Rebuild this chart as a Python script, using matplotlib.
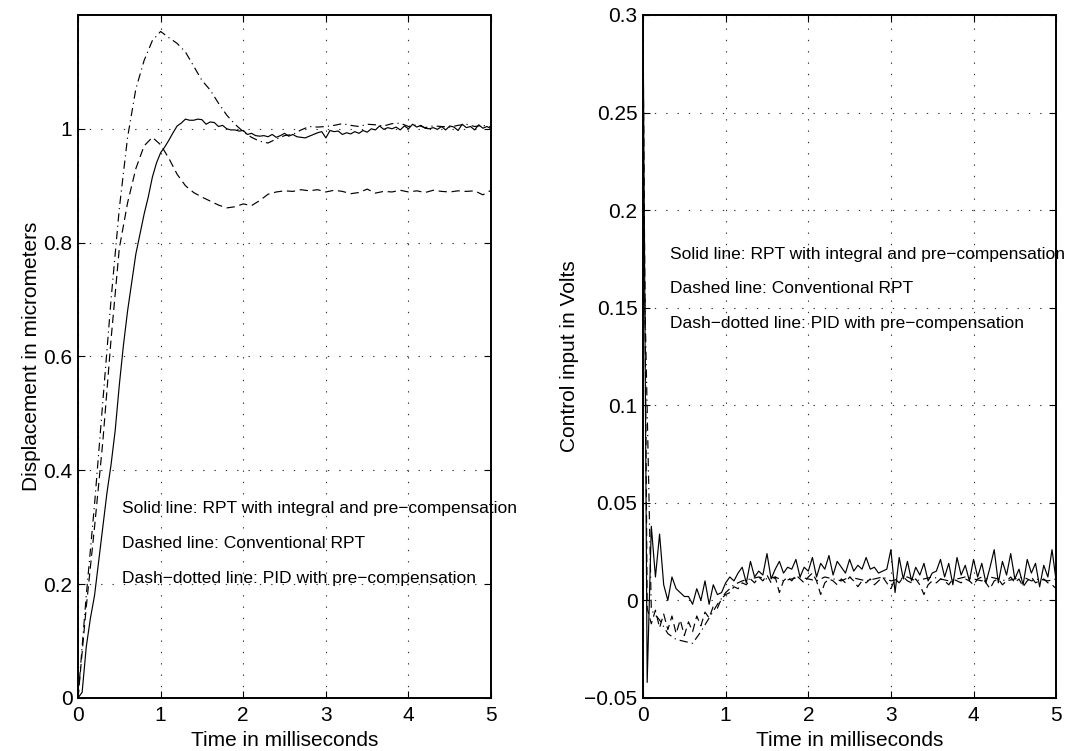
import matplotlib.pyplot as plt

plt.rcParams['font.family'] = ['Liberation Sans', 'DejaVu Sans']
plt.rcParams['font.size'] = 15
plt.rcParams['axes.linewidth'] = 1.4
plt.rcParams['xtick.direction'] = 'in'
plt.rcParams['ytick.direction'] = 'in'
plt.rcParams['xtick.top'] = True
plt.rcParams['ytick.right'] = True
plt.rcParams['xtick.major.size'] = 5
plt.rcParams['ytick.major.size'] = 5

# time grids (ms)
t_fine = [i * 0.05 for i in range(101)]
t_coarse = [i * 0.1 for i in range(51)]

# displacement (micrometers)
disp_solid = [0.0, 0.01, 0.09, 0.14, 0.18, 0.24, 0.30, 0.36, 0.41, 0.47,
              0.55, 0.62, 0.68, 0.73, 0.78, 0.815, 0.85, 0.88, 0.915, 0.94,
              0.958, 0.968, 0.98, 0.993, 1.005, 1.01, 1.017, 1.015, 1.015, 1.017,
              1.016, 1.008, 1.012, 1.011, 1.004, 1.006, 1.0, 0.998, 0.998, 0.996,
              0.997, 0.99, 0.992, 0.988, 0.987, 0.988, 0.986, 0.99, 0.985, 0.988,
              0.992, 0.987, 0.99, 0.986, 0.985, 0.984, 0.987, 0.99, 0.993, 0.995,
              0.984, 0.997, 0.995, 0.996, 0.99, 0.993, 0.991, 0.995, 0.992, 0.997,
              0.994, 1.0, 0.998, 1.005, 0.999, 1.002, 1.0, 1.003, 0.998, 1.005,
              1.0, 1.008, 1.003, 1.006, 1.001, 1.0, 1.002, 0.999, 1.004, 0.998,
              1.005, 1.003, 0.997, 1.008, 1.002, 1.004, 0.998, 1.007, 1.001, 1.004,
              1.0]
disp_dashed = [0.0, 0.16, 0.30, 0.45, 0.63, 0.79, 0.87, 0.93, 0.97, 0.985,
               0.972, 0.948, 0.92, 0.90, 0.888, 0.88, 0.873, 0.866, 0.861, 0.863,
               0.868, 0.865, 0.874, 0.885, 0.889, 0.891, 0.89, 0.893, 0.891, 0.893,
               0.889, 0.892, 0.89, 0.886, 0.888, 0.894, 0.887, 0.89, 0.889, 0.892,
               0.889, 0.891, 0.888, 0.892, 0.89, 0.889, 0.891, 0.89, 0.891, 0.884,
               0.892]
disp_dashdot = [0.0, 0.18, 0.34, 0.52, 0.70, 0.86, 0.985, 1.07, 1.12, 1.155,
                1.171, 1.16, 1.15, 1.135, 1.11, 1.085, 1.068, 1.045, 1.024, 1.008,
                0.995, 0.985, 0.978, 0.975, 0.982, 0.988, 0.99, 0.998, 1.004, 1.003,
                1.004, 1.006, 1.009, 1.006, 1.004, 1.008, 1.007, 1.005, 1.009, 1.01,
                1.004, 1.007, 1.002, 1.005, 1.004, 1.003, 1.006, 1.008, 1.004, 1.006,
                1.003]

# control input (Volts)
u_solid = [0.30, -0.042, 0.038, 0.012, 0.034, 0.008, 0.0, 0.012, 0.006, 0.004,
           0.002, 0.002, -0.002, 0.006, 0.0, 0.010, -0.002, 0.008, 0.003, 0.004,
           0.009, 0.012, 0.010, 0.014, 0.017, 0.009, 0.020, 0.012, 0.015, 0.013,
           0.024, 0.011, 0.016, 0.020, 0.014, 0.017, 0.016, 0.021, 0.012, 0.017,
           0.015, 0.022, 0.012, 0.019, 0.016, 0.023, 0.013, 0.020, 0.017, 0.014,
           0.021, 0.015, 0.018, 0.016, 0.022, 0.016, 0.017, 0.014, 0.015, 0.016,
           0.026, 0.004, 0.022, 0.011, 0.020, 0.010, 0.017, 0.013, 0.019, 0.010,
           0.014, 0.015, 0.021, 0.012, 0.019, 0.008, 0.022, 0.013, 0.018, 0.010,
           0.021, 0.012, 0.019, 0.009, 0.017, 0.026, 0.009, 0.020, 0.013, 0.024,
           0.011, 0.016, 0.008, 0.021, 0.014, 0.019, 0.007, 0.018, 0.012, 0.026,
           0.010]
u_dashed = [0.29, -0.004, -0.012, -0.005, -0.014, -0.007, -0.015, -0.008, -0.017, -0.010,
            -0.018, -0.011, -0.016, -0.008, -0.013, -0.006, -0.009, -0.003, -0.004, 0.001,
            0.003, 0.004, 0.007, 0.006, 0.009, 0.008, 0.011, 0.009, 0.012, 0.010,
            0.013, 0.009, 0.012, 0.004, 0.010, 0.012, 0.010, 0.013, 0.011, 0.009,
            0.012, 0.014, 0.010, 0.003, 0.009, 0.011, 0.010, 0.008, 0.011, 0.009,
            0.012, 0.010, 0.007, 0.010, 0.009, 0.011, 0.008, 0.010, 0.012, 0.009,
            0.006, 0.011, 0.009, 0.012, 0.010, 0.009, 0.011, 0.008, 0.003, 0.008,
            0.010, 0.009, 0.011, 0.010, 0.008, 0.011, 0.010, 0.009, 0.011, 0.010,
            0.008, 0.011, 0.012, 0.009, 0.006, 0.010, 0.011, 0.008, 0.010, 0.012,
            0.009, 0.011, 0.007, 0.010, 0.012, 0.009, 0.010, 0.011, 0.009, 0.008,
            0.006]
u_dashdot = [0.20, -0.005, -0.010, -0.017, -0.020, -0.021, -0.022, -0.016, -0.009, -0.002,
             0.004, 0.008, 0.010, 0.011, 0.012, 0.011, 0.012, 0.010, 0.011, 0.012,
             0.011, 0.010, 0.012, 0.011, 0.010, 0.012, 0.011, 0.010, 0.011, 0.012,
             0.010, 0.011, 0.012, 0.010, 0.011, 0.012, 0.011, 0.010, 0.011, 0.012,
             0.011, 0.010, 0.012, 0.011, 0.010, 0.011, 0.012, 0.010, 0.011, 0.010,
             0.011]

notes = ['Solid line: RPT with integral and pre\u2212compensation',
         'Dashed line: Conventional RPT',
         'Dash\u2212dotted line: PID with pre\u2212compensation']

x_ticks = [0, 1, 2, 3, 4, 5]
disp_ticks = [0, 0.2, 0.4, 0.6, 0.8, 1.0]
disp_labels = ['0', '0.2', '0.4', '0.6', '0.8', '1']
u_ticks = [-0.05, 0, 0.05, 0.1, 0.15, 0.2, 0.25, 0.3]
u_labels = ['\u22120.05', '0', '0.05', '0.1', '0.15', '0.2', '0.25', '0.3']

fig = plt.figure(figsize=(10.73, 7.51), dpi=100)
ax1 = fig.add_axes([0.0727, 0.0706, 0.385, 0.9095])
ax2 = fig.add_axes([0.5993, 0.0706, 0.385, 0.9095])

dash = (0, (7, 4))
dashdot = (0, (7, 3.5, 1, 3.5))
lw = 0.85
grid_style = dict(color='#333333', linestyle=(0, (1.2, 9)), linewidth=0.8)

# left: displacement
ax1.plot(t_fine, disp_solid, color='black', linewidth=lw)
ax1.plot(t_coarse, disp_dashed, color='black', linewidth=lw, linestyle=dash)
ax1.plot(t_coarse, disp_dashdot, color='black', linewidth=lw, linestyle=dashdot)
ax1.set_xlim(0, 5)
ax1.set_ylim(0, 1.2)
ax1.set_xticks(x_ticks)
ax1.set_yticks(disp_ticks)
ax1.set_yticklabels(disp_labels)
ax1.grid(True, **grid_style)
ax1.set_xlabel('Time in milliseconds', labelpad=4)
ax1.set_ylabel('Displacement in micrometers', labelpad=2)
for note, yv in zip(notes, [0.333, 0.272, 0.21]):
    ax1.text(0.53, yv, note, fontsize=12.5, va='center', ha='left')

# right: control input
ax2.plot(t_fine, u_solid, color='black', linewidth=lw)
ax2.plot(t_fine, u_dashed, color='black', linewidth=lw, linestyle=dash)
ax2.plot(t_coarse, u_dashdot, color='black', linewidth=lw, linestyle=dashdot)
ax2.set_xlim(0, 5)
ax2.set_ylim(-0.05, 0.3)
ax2.set_xticks(x_ticks)
ax2.set_yticks(u_ticks)
ax2.set_yticklabels(u_labels)
ax2.grid(True, **grid_style)
ax2.set_xlabel('Time in milliseconds', labelpad=4)
ax2.set_ylabel('Control input in Volts', labelpad=4)
for note, yv in zip(notes, [0.177, 0.16, 0.142]):
    ax2.text(0.33, yv, note, fontsize=12.5, va='center', ha='left')

for ax in (ax1, ax2):
    ax.tick_params(axis='x', pad=6)
    ax.tick_params(axis='y', pad=4)

fig.savefig('out.png', dpi=100)
